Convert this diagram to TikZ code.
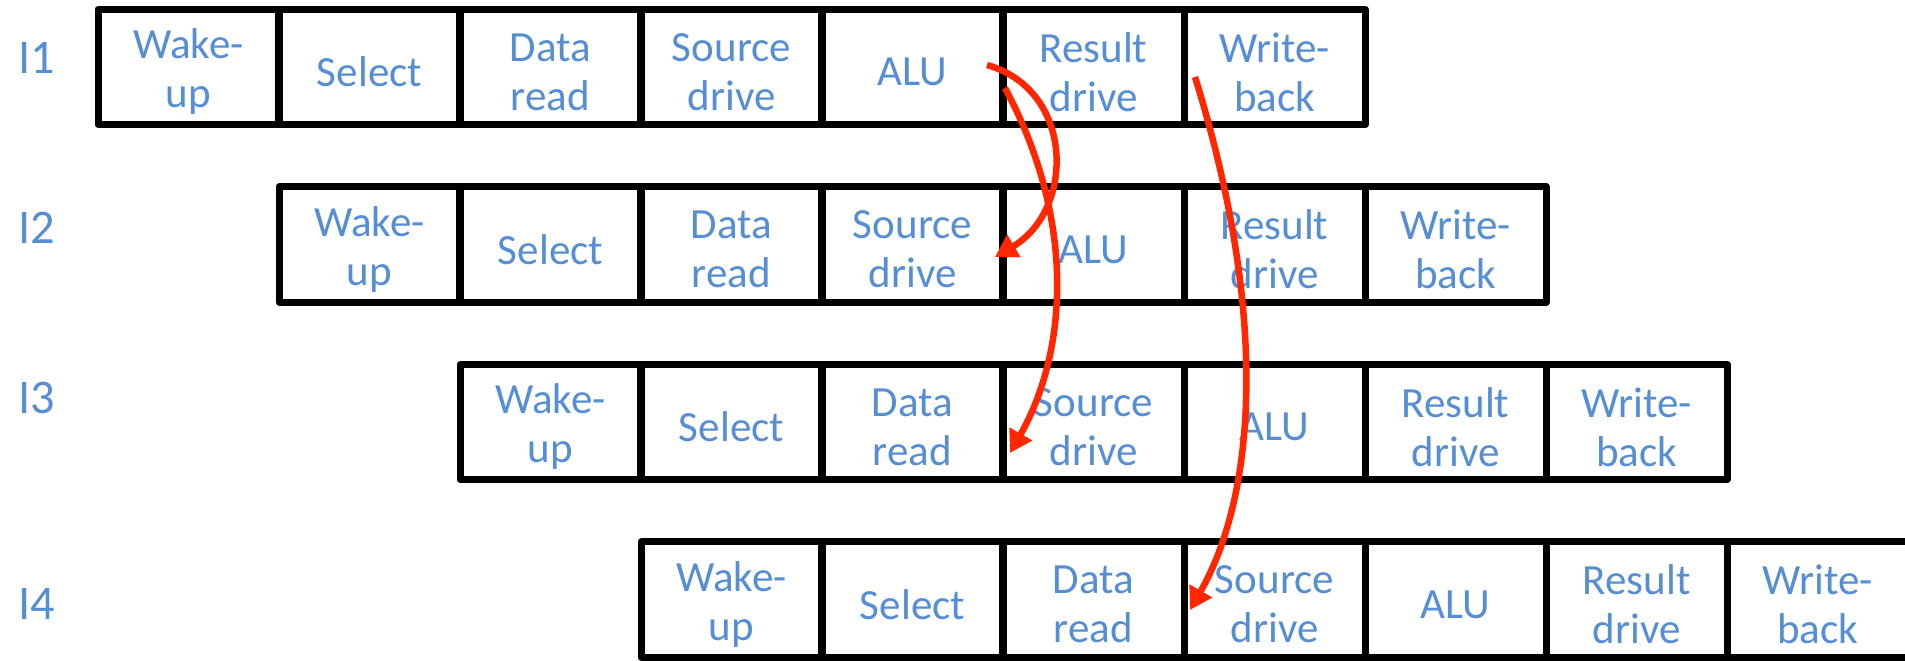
\documentclass[tikz,border=0pt]{standalone}
\usepackage{fontspec}
\setmainfont{Carlito}
\usetikzlibrary{arrows.meta,calc}
\definecolor{stagetext}{RGB}{85,142,213}
\definecolor{fwdred}{RGB}{255,38,0}
\begin{document}
\begin{tikzpicture}[x=0.02cm,y=-0.02cm,
  stagecell/.style={draw=black, line width=0.14cm, fill=white, line join=round,
    minimum width=3.62cm, minimum height=2.31cm, inner sep=0pt, outer sep=0pt},
  stagetxt/.style={align=center, text=stagetext, inner sep=0pt,
    font=\fontsize{24.5}{27.9}\selectfont},
  rowlabel/.style={text=stagetext, font=\fontsize{27.5}{30}\selectfont,
    anchor=west, inner sep=0pt},
  fwd/.style={draw=fwdred, line width=0.13cm,
    -{Triangle[length=0.44cm,width=0.5cm]}}]
\useasboundingbox (0,0) rectangle (1905,661);

% four instructions, each shifted by one pipeline stage
\foreach \r in {1,...,4} {
  \foreach [count=\c] \t in {{Wake-\\up},Select,{Data\\read},{Source\\drive},ALU,{Result\\drive},{Write-\\back}} {
    \node[stagecell] (r\r-\c) at ({98+181*(\r-1)+181*(\c-1)+90.5}, {67+177.5*(\r-1)}) {};
    \node[stagetxt] (t\r-\c) at ([yshift=-0.1cm]r\r-\c.center) {\t};
  }
}

% instruction labels
\node[rowlabel] (l1) at (18,58)  {I1};
\node[rowlabel] (l2) at (18,228) {I2};
\node[rowlabel] (l3) at (18,398) {I3};
\node[rowlabel] (l4) at (18,604) {I4};

% result forwarding paths
\draw[fwd] ($(r1-5.center)+(74.5,-2)$) .. controls +(88,25) and +(80,-47) .. ($(r2-4.east)+(-8,12.5)$);
\draw[fwd] ($(r1-5.east)+(2,21)$) .. controls +(71,132) and +(58,-102) .. ($(r3-3.east)+(7,31)$);
\draw[fwd] ($(r1-7.center)+(-79.5,10)$) .. controls +(76,245) and +(64,-112) .. ($(r4-3.east)+(6,10.5)$);
\end{tikzpicture}
\end{document}
